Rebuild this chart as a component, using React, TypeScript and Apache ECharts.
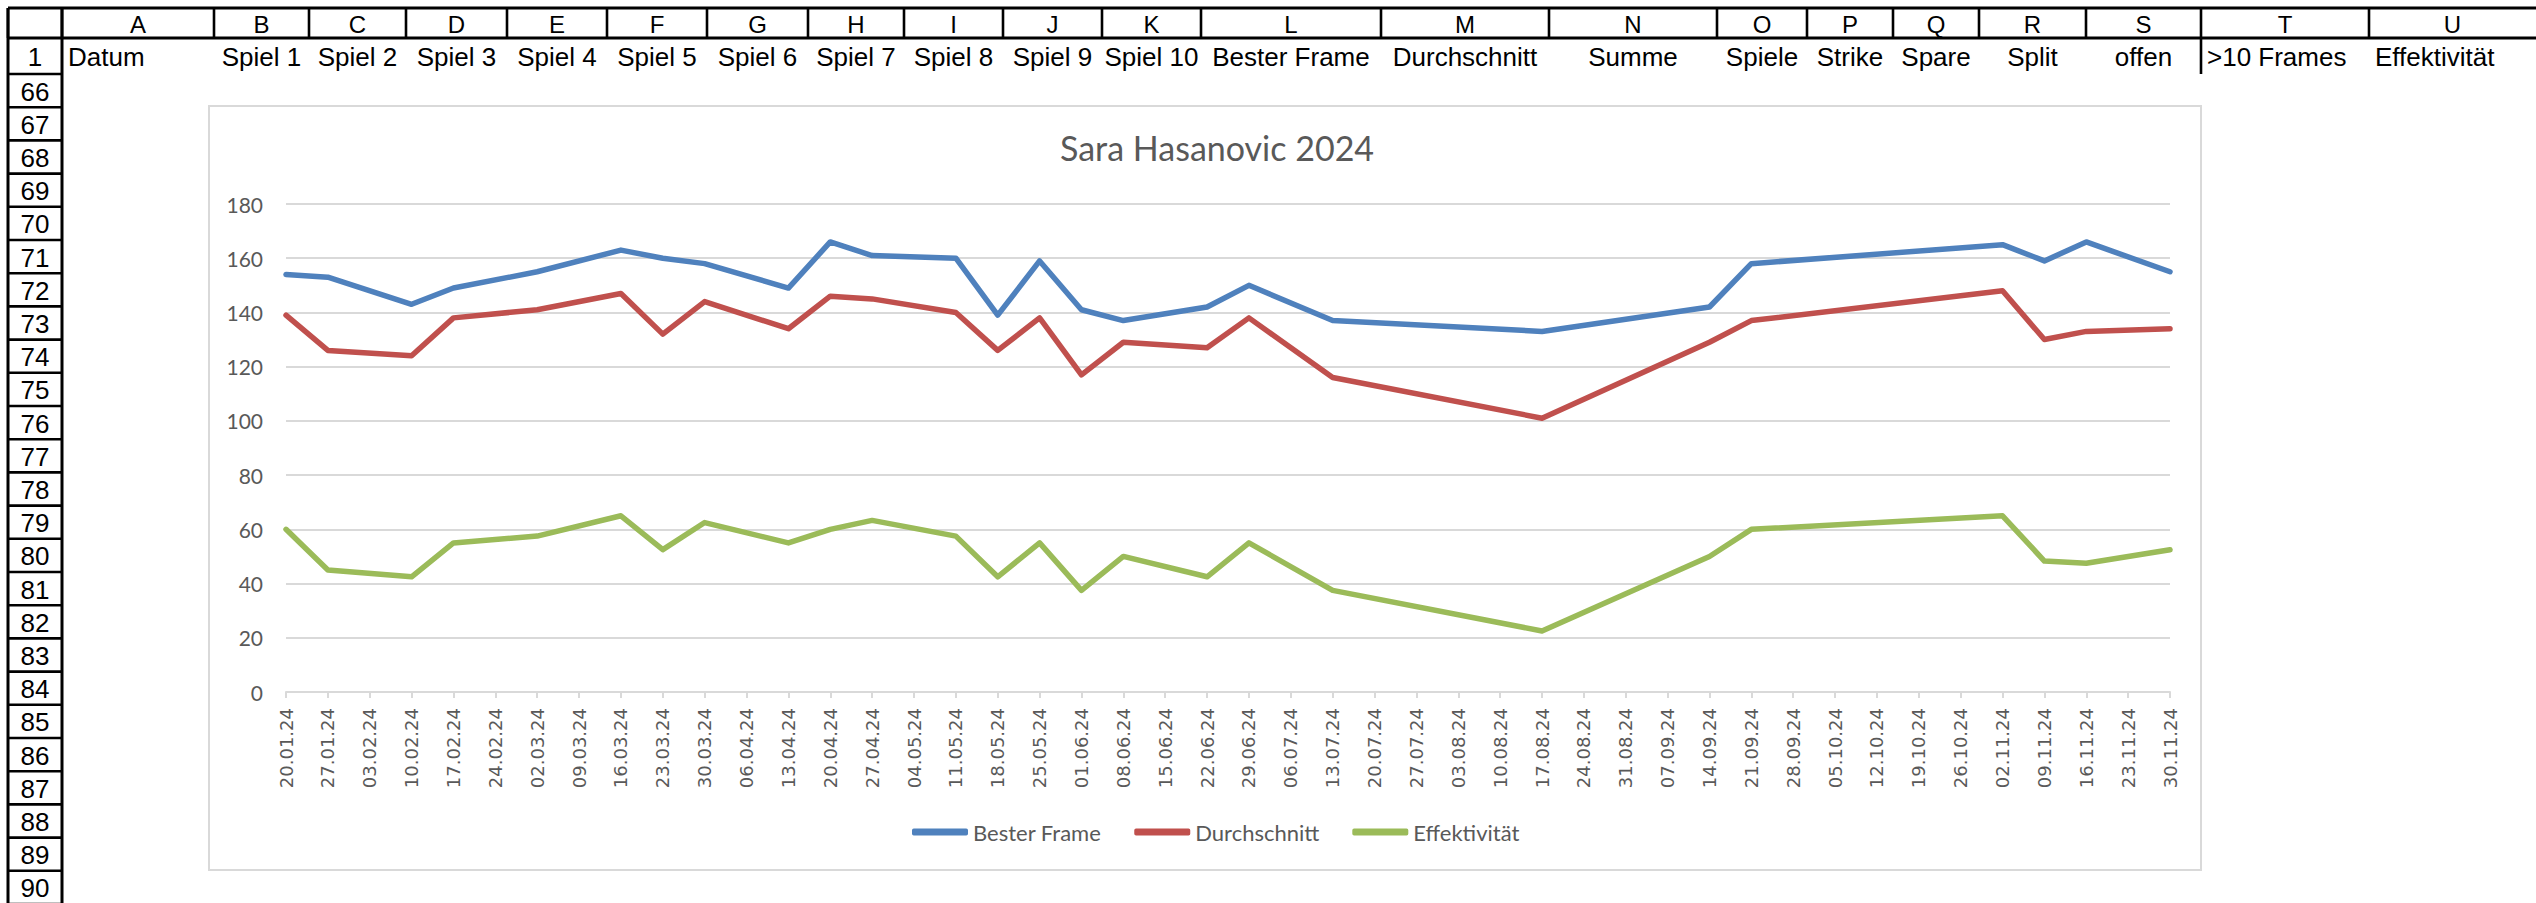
import React, { useEffect, useRef } from "react";
import * as echarts from "echarts";

// ---------- data ----------
const dateLabels = [
  "20.01.24", "27.01.24", "03.02.24", "10.02.24", "17.02.24", "24.02.24",
  "02.03.24", "09.03.24", "16.03.24", "23.03.24", "30.03.24", "06.04.24",
  "13.04.24", "20.04.24", "27.04.24", "04.05.24", "11.05.24", "18.05.24",
  "25.05.24", "01.06.24", "08.06.24", "15.06.24", "22.06.24", "29.06.24",
  "06.07.24", "13.07.24", "20.07.24", "27.07.24", "03.08.24", "10.08.24",
  "17.08.24", "24.08.24", "31.08.24", "07.09.24", "14.09.24", "21.09.24",
  "28.09.24", "05.10.24", "12.10.24", "19.10.24", "26.10.24", "02.11.24",
  "09.11.24", "16.11.24", "23.11.24", "30.11.24",
];

const playedDates = [
  "20.01.24", "27.01.24", "10.02.24", "17.02.24", "02.03.24", "16.03.24",
  "23.03.24", "30.03.24", "13.04.24", "20.04.24", "27.04.24", "11.05.24",
  "18.05.24", "25.05.24", "01.06.24", "08.06.24", "22.06.24", "29.06.24",
  "13.07.24", "17.08.24", "14.09.24", "21.09.24", "02.11.24", "09.11.24",
  "16.11.24", "30.11.24",
];

const besterFrame = [154, 153, 143, 149, 155, 163, 160, 158, 149, 166, 161, 160, 139, 159, 141, 137, 142, 150, 137, 133, 142, 158, 165, 159, 166, 155];
const durchschnitt = [139, 126, 124, 138, 141, 147, 132, 144, 134, 146, 145, 140, 126, 138, 117, 129, 127, 138, 116, 101, 129, 137, 148, 130, 133, 134];
const effektivitaet = [60, 45, 42.5, 55, 57.5, 65, 52.5, 62.5, 55, 60, 63.3, 57.5, 42.5, 55, 37.5, 50, 42.5, 55, 37.5, 22.5, 50, 60, 65, 48.3, 47.5, 52.5];

const seriesNames = ["Bester Frame", "Durchschnitt", "Effektivität"];
const chartTitle = "Sara Hasanovic 2024";

const columnLetters = ["A", "B", "C", "D", "E", "F", "G", "H", "I", "J", "K", "L", "M", "N", "O", "P", "Q", "R", "S", "T", "U"];
const row1Texts = ["Datum", "Spiel 1", "Spiel 2", "Spiel 3", "Spiel 4", "Spiel 5", "Spiel 6", "Spiel 7", "Spiel 8", "Spiel 9", "Spiel 10", "Bester Frame", "Durchschnitt", "Summe", "Spiele", "Strike", "Spare", "Split", "offen", ">10 Frames", "Effektivität"];
const rowNumbers = [1, 66, 67, 68, 69, 70, 71, 72, 73, 74, 75, 76, 77, 78, 79, 80, 81, 82, 83, 84, 85, 86, 87, 88, 89, 90];

// ---------- layout (not data) ----------
const colEdges = [8, 62, 214, 309, 406, 507, 607, 707, 808, 904, 1003, 1102, 1201, 1381, 1549, 1717, 1807, 1893, 1979, 2086, 2201, 2369, 2536];
const HEADER_TOP = 8;
const HEADER_BOTTOM = 38;
const ROW1_BOTTOM = 74;
const ROW_H = 33.2;
const leftAligned = new Set(["A", "T", "U"]);
const SHEET_FONT = "'Liberation Sans', Arial, sans-serif";

function toSeries(vals: number[]) {
  return dateLabels.map((d) => {
    const i = playedDates.indexOf(d);
    return i >= 0 ? vals[i] : null;
  });
}

function buildSheetGraphics() {
  const els: any[] = [];
  const black = "#000";
  const lw = 2.6;
  // header row
  els.push({ type: "line", shape: { x1: 8, y1: HEADER_TOP, x2: 2536, y2: HEADER_TOP }, style: { stroke: black, lineWidth: 3 } });
  els.push({ type: "line", shape: { x1: 8, y1: HEADER_BOTTOM, x2: 2536, y2: HEADER_BOTTOM }, style: { stroke: black, lineWidth: 3 } });
  for (let i = 0; i < colEdges.length - 1; i++) {
    els.push({ type: "line", shape: { x1: colEdges[i], y1: HEADER_TOP, x2: colEdges[i], y2: HEADER_BOTTOM }, style: { stroke: black, lineWidth: lw } });
  }
  columnLetters.forEach((L, j) => {
    const x0 = colEdges[j + 1];
    const x1 = colEdges[j + 2];
    els.push({
      type: "text",
      x: (x0 + x1) / 2,
      y: (HEADER_TOP + HEADER_BOTTOM) / 2 + 1,
      style: { text: L, font: "24px " + SHEET_FONT, fill: black, textAlign: "center", textVerticalAlign: "middle" },
    });
  });
  // row number column
  const rowTops: number[] = [HEADER_BOTTOM, ROW1_BOTTOM];
  for (let k = 1; k <= rowNumbers.length; k++) rowTops.push(ROW1_BOTTOM + k * ROW_H);
  els.push({ type: "line", shape: { x1: 8, y1: HEADER_TOP, x2: 8, y2: 903 }, style: { stroke: black, lineWidth: 3 } });
  els.push({ type: "line", shape: { x1: 62, y1: HEADER_TOP, x2: 62, y2: 903 }, style: { stroke: black, lineWidth: 3 } });
  rowNumbers.forEach((n, k) => {
    const top = rowTops[k];
    const bottom = rowTops[k + 1];
    els.push({ type: "line", shape: { x1: 8, y1: bottom, x2: 62, y2: bottom }, style: { stroke: black, lineWidth: lw } });
    els.push({
      type: "text",
      x: 35,
      y: (top + bottom) / 2 + 1,
      style: { text: String(n), font: "26px " + SHEET_FONT, fill: black, textAlign: "center", textVerticalAlign: "middle" },
    });
  });
  // row 1 texts
  row1Texts.forEach((t, j) => {
    const x0 = colEdges[j + 1];
    const x1 = colEdges[j + 2];
    const left = leftAligned.has(columnLetters[j]);
    els.push({
      type: "text",
      x: left ? x0 + 6 : (x0 + x1) / 2,
      y: (HEADER_BOTTOM + ROW1_BOTTOM) / 2 + 1,
      style: { text: t, font: "26px " + SHEET_FONT, fill: black, textAlign: left ? "left" : "center", textVerticalAlign: "middle" },
    });
  });
  // S|T border in row 1
  els.push({ type: "line", shape: { x1: 2201, y1: HEADER_BOTTOM, x2: 2201, y2: ROW1_BOTTOM }, style: { stroke: black, lineWidth: lw } });
  // chart frame
  els.push({ type: "rect", z: -5, shape: { x: 209, y: 106, width: 1992, height: 764 }, style: { fill: "#fff", stroke: "#D9D9D9", lineWidth: 2 } });
  return els;
}

export default function App() {
  const ref = useRef<HTMLDivElement>(null);
  useEffect(() => {
    if (!ref.current) return;
    const chart = echarts.init(ref.current, null, { renderer: "svg" });
    const colors = ["#4F81BD", "#C0504D", "#9BBB59"];
    const values = [besterFrame, durchschnitt, effektivitaet];
    chart.setOption({
      animation: false,
      backgroundColor: "#ffffff",
      color: colors,
      textStyle: { fontFamily: "Lato" },
      title: {
        text: chartTitle,
        left: 1055,
        top: 125,
        textStyle: { fontFamily: "Lato", fontSize: 34, fontWeight: "normal", color: "#595959" },
      },
      legend: {
        left: 907,
        top: 816,
        icon: "roundRect",
        itemWidth: 56,
        itemHeight: 7,
        itemGap: 33,
        data: seriesNames,
        textStyle: { fontFamily: "Lato", fontSize: 22, color: "#595959" },
      },
      grid: { left: 286, right: 366, top: 204, bottom: 211, outerBoundsMode: "none" },
      xAxis: {
        type: "category",
        data: dateLabels,
        boundaryGap: false,
        axisLine: { lineStyle: { color: "#D9D9D9", width: 2 } },
        axisTick: { show: true, length: 6, interval: 0, lineStyle: { color: "#D9D9D9", width: 2 } },
        axisLabel: { rotate: 90, margin: 16, interval: 0, fontFamily: "DejaVu Sans", fontSize: 18, color: "#595959" },
        splitLine: { show: false },
      },
      yAxis: {
        type: "value",
        min: 0,
        max: 180,
        interval: 20,
        axisLine: { show: false },
        axisTick: { show: false },
        axisLabel: { margin: 23, fontFamily: "Lato", fontSize: 21, color: "#595959" },
        splitLine: { lineStyle: { color: "#D9D9D9", width: 2 } },
      },
      series: seriesNames.map((name, i) => ({
        name,
        type: "line",
        data: toSeries(values[i]),
        connectNulls: true,
        symbol: "none",
        lineStyle: { width: 5.5, color: colors[i], cap: "round", join: "round" },
        itemStyle: { color: colors[i] },
        z: 3 + i,
      })),
      graphic: buildSheetGraphics(),
    });
    return () => chart.dispose();
  }, []);
  return <div ref={ref} style={{ position: "fixed", left: 0, top: 0, width: 2536, height: 903 }} />;
}
